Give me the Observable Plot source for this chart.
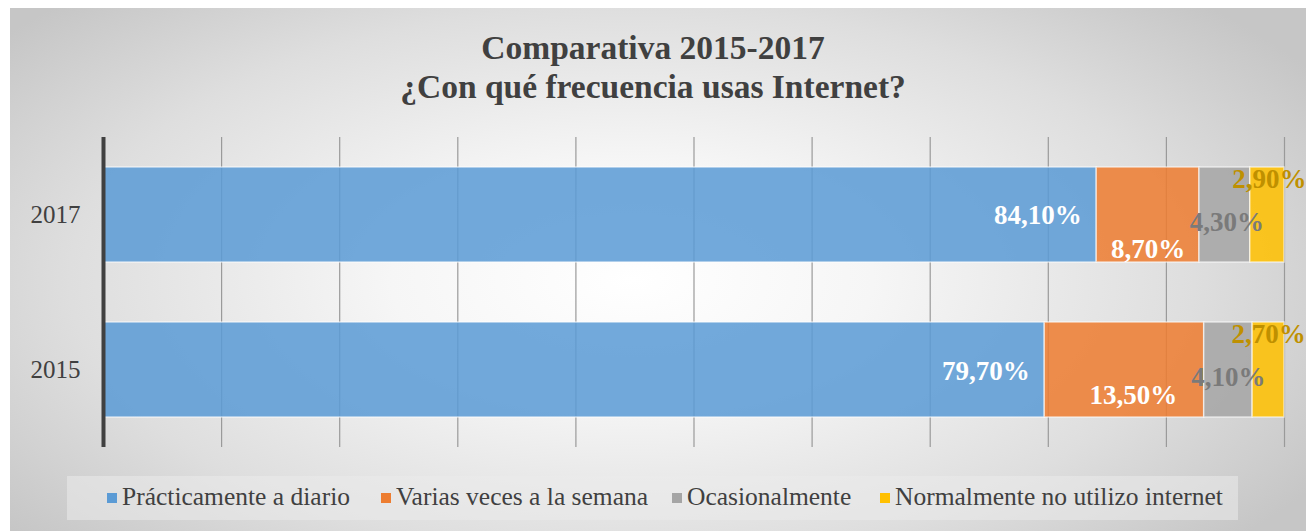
<!DOCTYPE html>
<html>
<head>
<meta charset="utf-8">
<script src="https://cdn.jsdelivr.net/npm/d3@7"></script>
<script src="https://cdn.jsdelivr.net/npm/@observablehq/plot@0.6"></script>
<style>
  html, body { margin: 0; padding: 0; background: #ffffff; width: 1306px; height: 531px; overflow: hidden; }
  #bg { position: absolute; left: 10px; top: 8px; width: 1296px; height: 523px;
        background: radial-gradient(ellipse 62% 75% at 48% 52%, #ffffff 0%, #f6f6f6 30%, #dedede 70%, #c6c6c6 100%); }
  #title { position: absolute; left: 0; top: 28px; width: 1306px; text-align: center;
           font-family: "Liberation Serif", serif; font-weight: bold; font-size: 33.5px; line-height: 39px; color: #404040; }
  #chart { position: absolute; left: 0; top: 130px; }
  #legend { position: absolute; left: 67px; top: 476px; width: 1171px; height: 44px;
            background: rgba(235,235,235,0.55); font-family: "Liberation Serif", serif; font-size: 25.5px; color: #404040; }
  .item { position: absolute; top: 6px; white-space: nowrap; }
  .sw { display: inline-block; width: 10px; height: 10px; margin-right: 5px; vertical-align: 2px; }
</style>
</head>
<body>
<div id="bg"></div>
<div id="title">Comparativa 2015-2017<br>¿Con qué frecuencia usas Internet?</div>
<div id="chart"></div>
<div id="legend"></div>
<script>
const years = ["2017", "2015"];
const series = ["Prácticamente a diario", "Varias veces a la semana", "Ocasionalmente", "Normalmente no utilizo internet"];
const values2017 = [84.1, 8.7, 4.3, 2.9];
const values2015 = [79.7, 13.5, 4.1, 2.7];
const xTicks = [0, 10, 20, 30, 40, 50, 60, 70, 80, 90, 100];

const colors = ["#5b9bd5", "#ed7d31", "#a5a5a5", "#ffc000"];
const labelColors = ["#ffffff", "#ffffff", "#7a7a7a", "#bf9000"];
// label offsets (style only): [anchor, dx, dy] per year/series
const labelStyle = {
  "2017": [["end", -15, 0], ["middle", 0, 34], ["middle", 2, 7], ["middle", 2, -36]],
  "2015": [["end", -15, 1], ["middle", 9, 25], ["middle", 0, 7], ["middle", 0, -36]]
};

const valuesByYear = {"2017": values2017, "2015": values2015};
const data = [];
for (const y of years) {
  let acc = 0;
  valuesByYear[y].forEach((v, i) => {
    data.push({year: y, series: series[i], value: v, start: acc, end: acc + v, i});
    acc += v;
  });
}
const fmt = v => v.toFixed(2).replace(".", ",") + "%";

const labelMarks = data.map(d => {
  const [anchor, dx, dy] = labelStyle[d.year][d.i];
  return Plot.text([d], {
    x: r => anchor === "end" ? r.end : (r.start + r.end) / 2,
    y: "year",
    text: r => fmt(r.value),
    textAnchor: anchor,
    dx, dy,
    fill: labelColors[d.i],
    fontSize: 27,
    fontWeight: "bold",
    fontFamily: "Liberation Serif, serif"
  });
});

const plot = Plot.plot({
  width: 1306,
  height: 320,
  marginLeft: 103,
  marginRight: 22,
  marginTop: 7,
  marginBottom: 3,
  style: {background: "transparent", fontFamily: "Liberation Serif, serif", overflow: "visible"},
  x: {domain: [0, 100], axis: null},
  y: {domain: years, paddingInner: 0.39, paddingOuter: 0.195, axis: null, label: null},
  color: {domain: series, range: colors},
  marks: [
    Plot.ruleX(xTicks.slice(1), {stroke: "#9a9a9a", strokeWidth: 1.2}),
    Plot.barX(data, {x1: "start", x2: "end", y: "year", fill: "series", fillOpacity: 0.86,
                     stroke: "#ffffff", strokeOpacity: 0.6, strokeWidth: 1.5}),
    Plot.ruleX([0], {stroke: "#404040", strokeWidth: 4}),
    Plot.axisY({tickSize: 0, tickPadding: 23, fontSize: 25, fill: "#404040", label: null, fontFamily: "Liberation Serif, serif"}),
    ...labelMarks
  ]
});
document.getElementById("chart").appendChild(plot);

const legend = document.getElementById("legend");
const lx = [40, 314, 605, 813];
series.forEach((s, i) => {
  const el = document.createElement("div");
  el.className = "item";
  el.style.left = lx[i] + "px";
  el.innerHTML = `<span class="sw" style="background:${colors[i]}"></span>${s}`;
  legend.appendChild(el);
});
</script>
</body>
</html>
